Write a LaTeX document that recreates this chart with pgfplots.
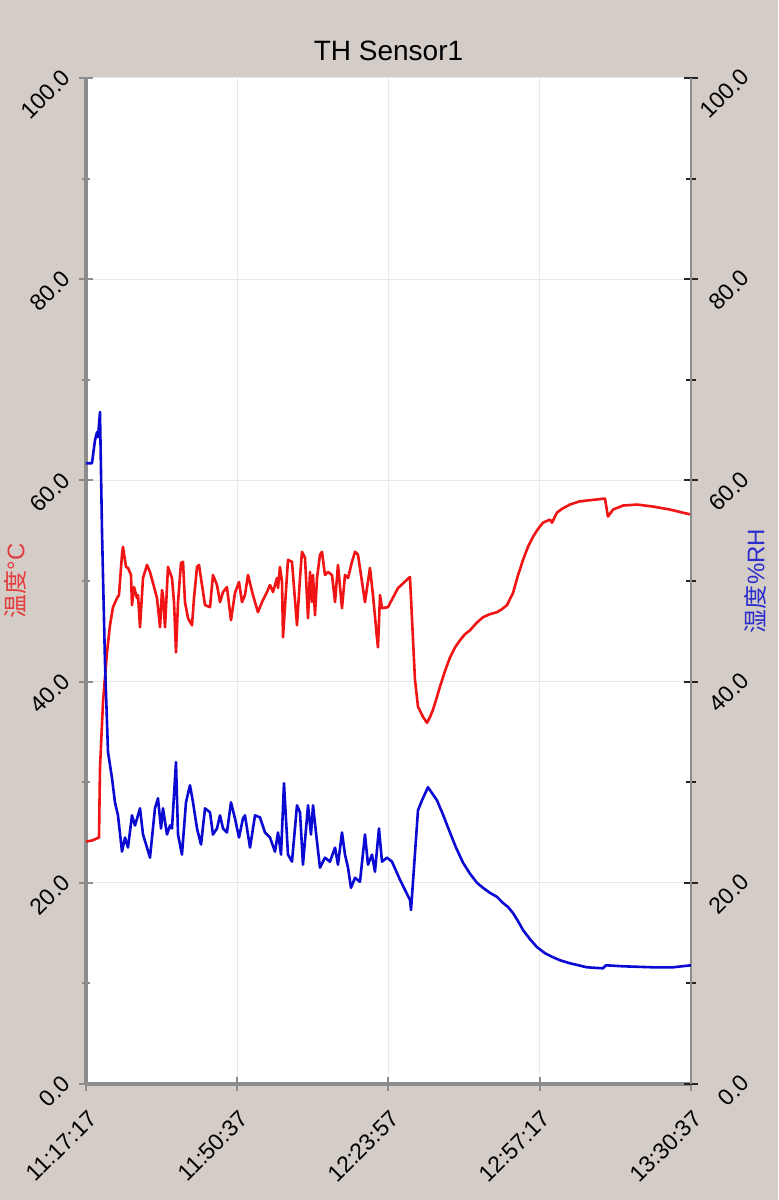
\documentclass[border=0pt]{standalone}
\usepackage{fontspec}
\setmainfont{Liberation Sans}
\newfontfamily\cjk{Noto Sans CJK SC}
\usepackage{pgfplots}
\pgfplotsset{compat=1.18}
\usepackage{pgfplotstable}

\definecolor{bg}{RGB}{212,204,198}
\definecolor{axisgray}{RGB}{140,140,140}
\definecolor{gridgray}{RGB}{232,232,232}
\definecolor{tred}{RGB}{240,20,20}
\definecolor{hblue}{RGB}{10,10,210}
\definecolor{labred}{RGB}{228,60,60}
\definecolor{labblue}{RGB}{45,45,205}

\pgfplotstableread{
t v
0 24.1
79 24.2
172 24.5
185 31.4
225 38.0
278 42.9
317 45.6
357 47.4
410 48.3
436 48.6
476 52.6
489 53.4
529 51.4
555 51.3
595 50.6
608 47.6
635 49.4
674 48.3
688 48.6
714 45.4
754 50.3
807 51.6
846 50.9
886 49.8
939 48.3
979 45.4
1005 49.1
1018 48.6
1045 45.4
1084 51.4
1137 50.3
1164 47.9
1190 42.9
1217 47.9
1256 51.8
1283 51.9
1309 47.9
1349 46.3
1402 45.6
1428 48.3
1468 51.4
1494 51.6
1534 49.6
1574 47.6
1640 47.4
1679 50.6
1732 49.6
1772 47.9
1812 48.9
1864 49.4
1917 46.1
1970 48.8
2023 49.9
2063 47.9
2102 48.6
2142 50.6
2208 48.6
2274 46.9
2327 47.9
2393 48.9
2433 49.6
2473 48.9
2526 50.3
2539 49.3
2565 51.4
2592 49.9
2605 44.4
2671 52.1
2724 51.9
2790 45.6
2830 50.3
2856 52.9
2896 52.3
2936 46.3
2962 50.9
2988 47.9
3002 50.6
3028 46.6
3055 50.3
3094 52.6
3121 52.9
3160 50.6
3200 50.9
3253 50.6
3293 47.9
3332 51.6
3385 47.3
3425 50.6
3465 50.3
3517 51.9
3557 52.9
3597 52.6
3650 49.9
3689 47.9
3755 51.3
3795 48.6
3848 44.3
3861 43.4
3888 48.6
3914 47.3
3993 47.4
4126 49.3
4284 50.4
4350 40.2
4390 37.5
4456 36.5
4509 35.9
4550 36.5
4588 37.2
4630 38.2
4681 39.5
4745 41.0
4813 42.4
4880 43.4
4945 44.1
5010 44.7
5078 45.1
5160 45.8
5250 46.4
5340 46.7
5435 46.9
5500 47.2
5567 47.6
5646 48.8
5710 50.5
5779 52.1
5845 53.4
5911 54.4
5980 55.2
6043 55.8
6136 56.1
6162 55.8
6228 56.8
6300 57.2
6400 57.6
6520 57.9
6625 58.0
6750 58.1
6863 58.2
6902 56.4
6969 57.1
7101 57.5
7286 57.6
7498 57.4
7722 57.1
8000 56.6
}\temptab

\pgfplotstableread{
t v
0 61.7
79 61.7
119 64.0
146 64.8
159 64.3
185 66.8
212 54.8
251 41.9
291 33.0
344 30.4
383 28.0
423 26.7
476 23.1
516 24.5
555 23.5
608 26.7
648 25.7
714 27.4
754 24.8
807 23.5
846 22.5
912 27.4
952 28.4
992 25.4
1018 27.4
1071 24.8
1111 25.7
1137 25.4
1190 32.0
1217 24.8
1269 22.8
1322 28.0
1375 29.7
1415 28.0
1468 25.4
1521 23.8
1574 27.4
1640 27.0
1679 24.8
1732 25.4
1772 26.7
1812 25.4
1864 25.0
1917 28.0
1970 26.4
2023 24.5
2076 26.4
2102 26.7
2169 23.5
2235 26.7
2301 26.5
2367 25.0
2433 24.5
2499 23.1
2539 25.0
2579 22.8
2618 29.9
2671 22.8
2724 22.1
2790 27.7
2830 27.0
2869 21.8
2936 27.7
2975 24.8
3002 27.7
3041 25.0
3094 21.5
3160 22.5
3226 22.1
3293 23.5
3332 21.8
3385 25.0
3425 22.8
3465 21.5
3504 19.5
3557 20.5
3623 20.1
3689 24.8
3729 21.8
3782 22.8
3821 21.1
3874 25.4
3914 22.1
3980 22.5
4046 22.1
4152 20.3
4284 18.3
4298 17.3
4390 27.2
4443 28.2
4522 29.5
4641 28.2
4720 26.8
4813 25.0
4893 23.5
4985 22.0
5078 20.9
5170 20.0
5250 19.5
5342 19.0
5435 18.6
5514 18.0
5580 17.6
5646 17.0
5712 16.2
5779 15.3
5871 14.4
5964 13.6
6070 13.0
6175 12.6
6268 12.3
6400 12.0
6625 11.6
6836 11.5
6876 11.8
7101 11.7
7498 11.6
7762 11.6
8000 11.8
}\humtab

\begin{document}
\begin{tikzpicture}
\fill[bg] (-43pt,-58pt) rectangle (346pt,542pt);
\path[use as bounding box] (-43pt,-58pt) rectangle (346pt,542pt);
\begin{axis}[
  scale only axis, width=302.5pt, height=503pt,
  xmin=0, xmax=8000, ymin=0, ymax=100,
  axis x line*=bottom, axis y line*=left,
  axis line style={draw=axisgray, line width=1.6pt, -},
  axis background/.style={fill=white},
  xtick={0,2000,4000,6000,8000},
  xticklabels={11:17:17,11:50:37,12:23:57,12:57:17,13:30:37},
  ytick={0,20,40,60,80,100}, minor y tick num=1,
  grid=major, major grid style={draw=gridgray, line width=0.5pt},
  tick align=center, major tick length=7pt, minor tick length=4pt,
  every tick/.style={draw=axisgray, line width=1pt},
  xticklabel style={xshift=5.75pt, yshift=-9.5pt, rotate=45, anchor=east,
    font=\fontsize{11.5}{13}\selectfont},
  yticklabel style={/pgf/number format/fixed, /pgf/number format/fixed zerofill,
    /pgf/number format/precision=1, /pgf/number format/assume math mode=true,
    xshift=-4pt, yshift=4.5pt, rotate=45, anchor=east, font=\fontsize{11.5}{13}\selectfont},
  title={TH Sensor1},
  title style={font=\fontsize{14}{16}\selectfont, yshift=-1pt},
  ylabel={{\cjk 温度}°C},
  every axis y label/.style={at={(axis description cs:-0.117,0.5)}, anchor=center, rotate=90,
    font=\fontsize{12}{14}\selectfont, text=labred},
]
\addplot[tred, line width=1.3pt, line join=round] table[x=t, y=v] {\temptab};
\end{axis}
\begin{axis}[
  scale only axis, width=302.5pt, height=503pt,
  xmin=0, xmax=8000, ymin=0, ymax=100,
  axis x line=none, axis y line*=right,
  axis line style={draw=axisgray, line width=1.1pt, -},
  xtick=\empty,
  ytick={0,20,40,60,80,100}, minor y tick num=1,
  tick align=center, major tick length=7pt, minor tick length=5pt,
  every tick/.style={draw=black!85, line width=1pt},
  yticklabel style={/pgf/number format/fixed, /pgf/number format/fixed zerofill,
    /pgf/number format/precision=1, /pgf/number format/assume math mode=true,
    xshift=26pt, yshift=5pt, rotate=45, anchor=east, font=\fontsize{11.5}{13}\selectfont},
  ylabel={{\cjk 湿度}\%RH},
  every axis y label/.style={at={(axis description cs:1.106,0.5)}, anchor=center, rotate=90,
    font=\fontsize{12}{14}\selectfont, text=labblue},
]
\addplot[hblue, line width=1.3pt, line join=round] table[x=t, y=v] {\humtab};
\end{axis}
\end{tikzpicture}
\end{document}
